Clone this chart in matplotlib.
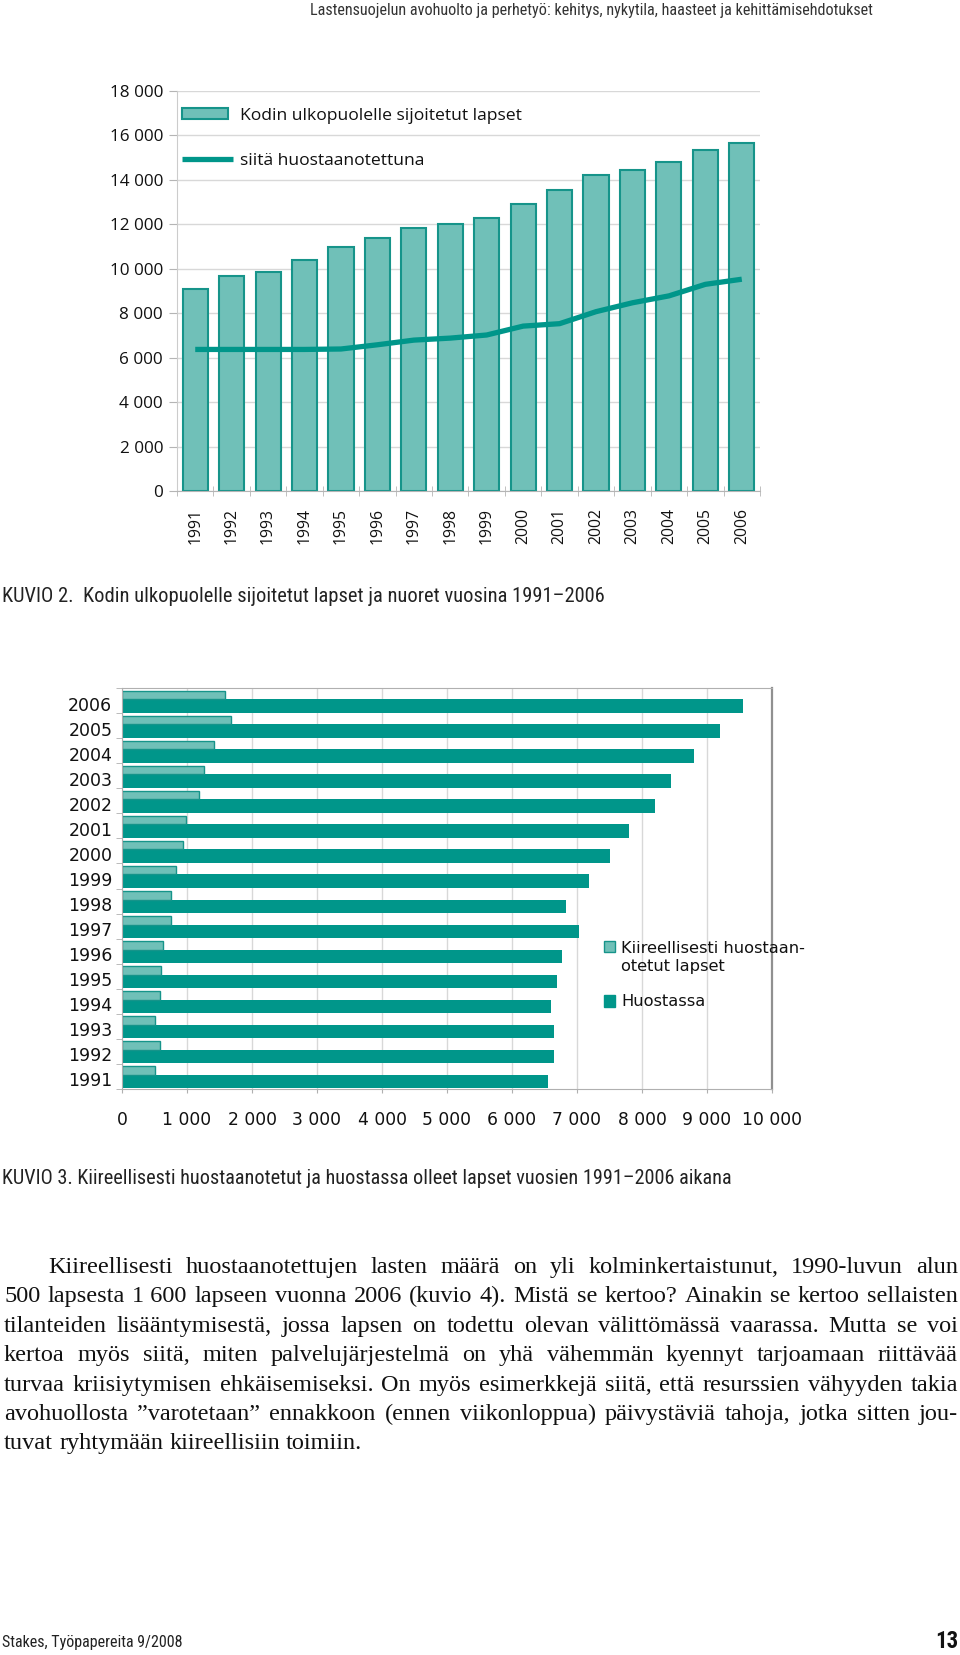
import matplotlib
matplotlib.use("Agg")
import matplotlib.pyplot as plt
from matplotlib.patches import Rectangle
from matplotlib.lines import Line2D
from matplotlib import font_manager as fm
import numpy as np

# ---------------- data ----------------
years = [1991, 1992, 1993, 1994, 1995, 1996, 1997, 1998,
         1999, 2000, 2001, 2002, 2003, 2004, 2005, 2006]
# KUVIO 2
placed_outside_home = [9075, 9675, 9850, 10375, 11000, 11375, 11825, 12000,
                       12300, 12900, 13525, 14200, 14425, 14825, 15350, 15650]
of_which_in_custody = [6370, 6370, 6370, 6370, 6390, 6580, 6790, 6880,
                       7020, 7420, 7530, 8070, 8470, 8780, 9300, 9530]
top_yticks = [0, 2000, 4000, 6000, 8000, 10000, 12000, 14000, 16000, 18000]
# KUVIO 3
urgent_custody = [510, 580, 510, 580, 600, 630, 760, 760,
                  830, 940, 990, 1190, 1260, 1420, 1670, 1590]
in_custody = [6550, 6650, 6650, 6600, 6690, 6775, 7030, 6830,
              7180, 7500, 7800, 8200, 8450, 8800, 9200, 9550]
bottom_xticks = [0, 1000, 2000, 3000, 4000, 5000, 6000, 7000, 8000, 9000, 10000]

header = "Lastensuojelun avohuolto ja perhetyö: kehitys, nykytila, haasteet ja kehittämisehdotukset"
caption2 = "KUVIO 2.  Kodin ulkopuolelle sijoitetut lapset ja nuoret vuosina 1991\u20132006"
caption3 = "KUVIO 3. Kiireellisesti huostaanotetut ja huostassa olleet lapset vuosien 1991\u20132006 aikana"
legend_top = ["Kodin ulkopuolelle sijoitetut lapset", "siitä huostaanotettuna"]
legend_bottom = ["Kiireellisesti huostaan-\notetut lapset", "Huostassa"]
body_lines = [
    "Kiireellisesti huostaanotettujen lasten määrä on yli kolminkertaistunut, 1990-luvun alun",
    "500 lapsesta 1\u00a0600 lapseen vuonna 2006 (kuvio 4). Mistä se kertoo? Ainakin se kertoo sellaisten",
    "tilanteiden lisääntymisestä, jossa lapsen on todettu olevan välittömässä vaarassa. Mutta se voi",
    "kertoa myös siitä, miten palvelujärjestelmä on yhä vähemmän kyennyt tarjoamaan riittävää",
    "turvaa kriisiytymisen ehkäisemiseksi. On myös esimerkkejä siitä, että resurssien vähyyden takia",
    "avohuollosta \u201dvarotetaan\u201d ennakkoon (ennen viikonloppua) päivystäviä tahoja, jotka sitten jou-",
    "tuvat ryhtymään kiireellisiin toimiin.",
]
footer_left = "Stakes, Työpapereita 9/2008"
footer_right = "13"

# ---------------- style ----------------
LIGHT = "#70c0b8"
DARK = "#00968a"
EDGE = "#16948a"
GRID = "#d8d8d8"

avail = {f.name for f in fm.fontManager.ttflist}


def pick(*names):
    for n in names:
        if n in avail:
            return n
    return "DejaVu Sans"


NARROW = pick("Liberation Sans Narrow", "Roboto Condensed", "Open Sans Condensed", "Roboto")
SANS_TOP = pick("Open Sans", "Noto Sans", "Lato")
SERIF = pick("Liberation Serif", "DejaVu Serif")

plt.rcParams["font.family"] = ["DejaVu Sans"]

W, H = 960, 1655
fig = plt.figure(figsize=(W / 100, H / 100), dpi=100)
fig.patch.set_facecolor("white")
renderer = fig.canvas.get_renderer()


def fx(px):
    return px / W


def fy(py):
    return 1 - py / H


def fit_text(x, y, s, target_w, size0, ha="left", **kw):
    t = fig.text(fx(x), fy(y), s, fontsize=size0, ha=ha, va="center", **kw)
    bb = t.get_window_extent(renderer)
    t.set_fontsize(size0 * target_w / bb.width)
    return t


def text_width(s, size, **kw):
    t = fig.text(0, 0, s, fontsize=size, **kw)
    w = t.get_window_extent(renderer).width
    t.remove()
    return w


# ---------------- header / captions ----------------
fit_text(873, 11, header, 564, 11, ha="right", family=NARROW, color="#333333")
fit_text(2, 597, caption2, 600, 12, family=NARROW, color="#222222")
fit_text(2, 1179, caption3, 728, 12, family=NARROW, color="#222222")
fit_text(2, 1642, footer_left, 180, 11, family=NARROW, color="#222222")
fit_text(958, 1642, footer_right, 23, 16, ha="right", family=NARROW, weight="bold", color="#111111")

# ---------------- KUVIO 2 ----------------
ax1 = fig.add_axes([fx(177), fy(491), fx(760) - fx(177), fy(91) - fy(491)])
x = np.arange(len(years))
ax1.bar(x, placed_outside_home, width=0.69, color=LIGHT, edgecolor=EDGE, linewidth=1.5, zorder=2)
ax1.plot(x, of_which_in_custody, color=DARK, lw=3.8, zorder=3,
         solid_capstyle="butt", solid_joinstyle="round")
ax1.set_xlim(-0.5, len(years) - 0.5)
ax1.set_ylim(0, 18000)
ax1.set_yticks(top_yticks)
ax1.set_yticklabels([f"{v:,}".replace(",", " ") for v in top_yticks])
ax1.yaxis.grid(True, color=GRID, lw=1)
ax1.set_axisbelow(True)
for s in ["top", "right"]:
    ax1.spines[s].set_visible(False)
ax1.spines["left"].set_color("#cccccc")
ax1.spines["bottom"].set_color("#b5b5b5")
ax1.tick_params(axis="y", length=6, color="#b5b5b5", pad=4, labelsize=12.3)
ax1.set_xticks(x)
ax1.set_xticklabels([str(v) for v in years], rotation=90)
ax1.tick_params(axis="x", which="major", length=0, pad=12, labelsize=11.3)
ax1.set_xticks(np.arange(-0.5, len(years), 1), minor=True)
ax1.tick_params(axis="x", which="minor", length=7, direction="inout", color="#b5b5b5")
for lab in ax1.get_xticklabels() + ax1.get_yticklabels():
    lab.set_fontfamily(SANS_TOP)
    lab.set_color("#111111")

# legend (top chart)
fig.add_artist(Rectangle((fx(182), fy(119)), fx(228) - fx(182), fy(108) - fy(119),
                         transform=fig.transFigure, facecolor=LIGHT, edgecolor=EDGE, lw=1.5))
fig.add_artist(Line2D([fx(182), fx(233)], [fy(159), fy(159)], transform=fig.transFigure,
                      color=DARK, lw=3.8, solid_capstyle="butt"))
fig.text(fx(240), fy(116), legend_top[0], family=SANS_TOP, fontsize=12.6, va="center", color="#111111")
fig.text(fx(240), fy(161), legend_top[1], family=SANS_TOP, fontsize=12.6, va="center", color="#111111")

# ---------------- KUVIO 3 ----------------
ax2 = fig.add_axes([fx(122), fy(1089), fx(772) - fx(122), fy(688) - fy(1089)])
yy = np.arange(len(years))
ax2.barh(yy - 0.21, in_custody, height=0.54, color=DARK, lw=0, zorder=2)
ax2.barh(yy + 0.23, urgent_custody, height=0.34, color=LIGHT, edgecolor=EDGE, lw=1, zorder=2)
ax2.set_ylim(-0.5, len(years) - 0.5)
ax2.set_xlim(0, 10000)
ax2.set_xticks(bottom_xticks)
ax2.set_xticklabels([f"{v:,}".replace(",", " ") for v in bottom_xticks])
ax2.xaxis.grid(True, color=GRID, lw=1)
ax2.set_axisbelow(True)
ax2.set_yticks(yy - 0.12)
ax2.set_yticklabels([str(v) for v in years])
ax2.tick_params(axis="y", which="major", length=0, pad=7, labelsize=12.5)
ax2.set_yticks(np.arange(-0.5, len(years), 1), minor=True)
ax2.tick_params(axis="y", which="minor", length=4, color="#b0b0b0")
ax2.tick_params(axis="x", length=3, color="#b0b0b0", pad=13, labelsize=12.3)
for s in ["top", "bottom", "left"]:
    ax2.spines[s].set_color("#b0b0b0")
ax2.spines["right"].set_color("#909090")
ax2.spines["right"].set_linewidth(1.6)
for lab in ax2.get_xticklabels() + ax2.get_yticklabels():
    lab.set_color("#111111")

# legend (bottom chart)
fig.add_artist(Rectangle((fx(604), fy(952)), fx(615) - fx(604), fy(941) - fy(952),
                         transform=fig.transFigure, facecolor=LIGHT, edgecolor=EDGE, lw=1))
fig.add_artist(Rectangle((fx(604), fy(1007)), fx(615) - fx(604), fy(995) - fy(1007),
                         transform=fig.transFigure, facecolor=DARK, edgecolor=DARK, lw=1))
fig.text(fx(621), fy(941), legend_bottom[0], fontsize=11.7, va="top", ha="left",
         linespacing=1.25, color="#111111")
fig.text(fx(621), fy(1002), legend_bottom[1], fontsize=11.7, va="center", ha="left", color="#111111")

# ---------------- body paragraph (justified) ----------------
x_left, x_right = 4, 958
base0, step = 1273, 29.4
size0 = 14.0
ratios = []
for i, line in enumerate(body_lines[:-1]):
    start = 48 if i == 0 else x_left
    ratios.append((x_right - start) / text_width(line, size0, family=SERIF))
BODY_FS = size0 * min(ratios) * 0.985
space_w = text_width("a a", BODY_FS, family=SERIF) - text_width("aa", BODY_FS, family=SERIF)

for i, line in enumerate(body_lines):
    words = line.split(" ")
    ts = [fig.text(0, 0, w, family=SERIF, fontsize=BODY_FS, va="baseline", ha="left", color="#111111")
          for w in words]
    ws = [t.get_window_extent(renderer).width for t in ts]
    start = 48 if i == 0 else x_left
    last = i == len(body_lines) - 1
    if last or len(words) < 2:
        gap = space_w
    else:
        gap = (x_right - start - sum(ws)) / (len(words) - 1)
    xp = start
    yb = base0 + i * step
    for t, w in zip(ts, ws):
        t.set_position((fx(xp), fy(yb)))
        xp += w + gap

fig.savefig("out.png", dpi=100, facecolor="white")
